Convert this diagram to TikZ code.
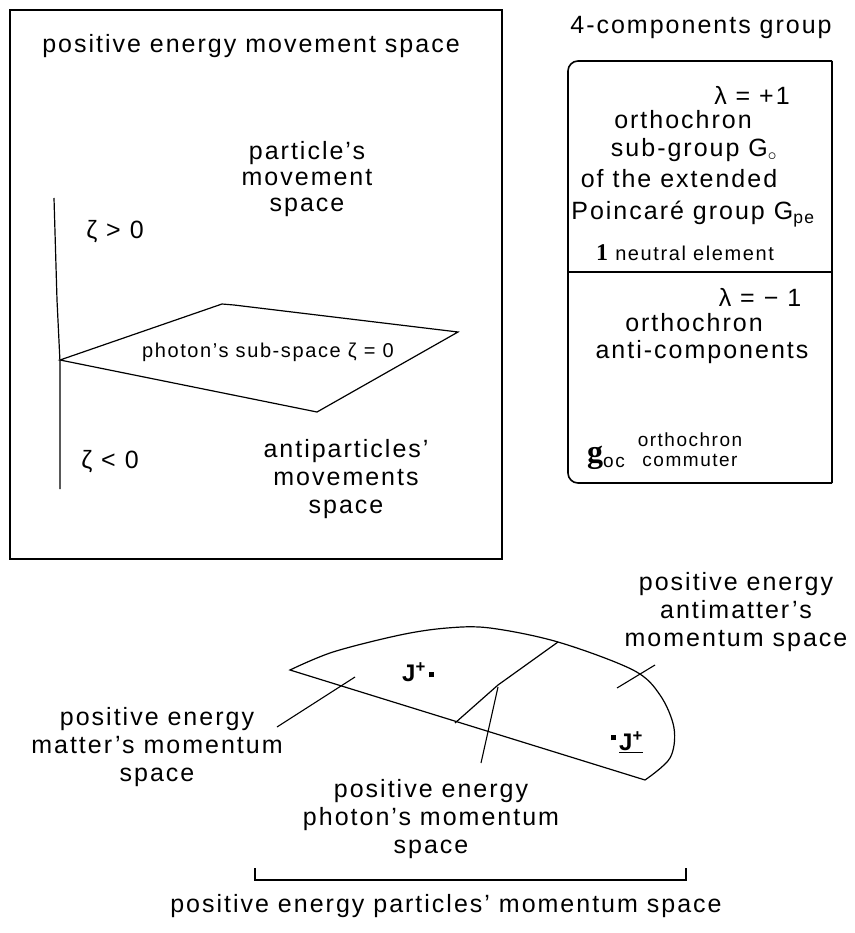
\documentclass[tikz,border=0pt]{standalone}
\usepackage{fontspec}
\setmainfont{Liberation Sans}[LetterSpace=8]
\newfontfamily\serifrm{Liberation Serif}
\usepackage{tikz}
\usetikzlibrary{positioning}
\newcommand\bigtext{\fontsize{25}{28}\selectfont}
\newcommand\smalltext{\fontsize{20}{22}\selectfont}
\tikzset{
  boxline/.style={
    draw=black,
    line width=1.6pt,
  },
  thinline/.style={
    draw=black,
    line width=1.2pt,
  },
  leader/.style={
    draw=black,
    line width=1.1pt,
  },
  lbl/.style={
    font=\bigtext,
    align=center,
    inner sep=0pt,
  },
  smalllbl/.style={
    font=\smalltext,
    align=center,
    inner sep=0pt,
  },
  jlbl/.style={
    font=\fontsize{24}{24}\selectfont\bfseries,
    inner sep=0pt,
  },
}

\begin{document}
\begin{tikzpicture}[x=1pt, y=-1pt]
  \useasboundingbox (0,0) rectangle (854,933);

  % Left frame — movement space
  \draw[boxline] (10,10) rectangle (502,559);
  \node[lbl] (title) at (251,46) {positive energy movement space};
  \node[lbl, font=\fontsize{25}{26}\selectfont] (particles) at (307,179) {particle's\\movement\\space};
  \node[lbl] (zetapos) at (115,232) {ζ > 0};
  \node[lbl] (zetaneg) at (110,462) {ζ < 0};
  \node[lbl] (antiparticles) at (346,479) {antiparticles'\\movements\\space};

  \draw[thinline] (54,198) -- (57,300) -- (60,362) -- (60,489);
  \coordinate (pl) at (60,360);
  \coordinate (pt) at (222,304);
  \coordinate (pt2) at (234,305);
  \coordinate (pr) at (458,332);
  \coordinate (pb) at (317,412);
  \draw[thinline] (pl) -- (pt) -- (pt2) -- (pr) -- (pb) -- cycle;
  \node[smalllbl] (photonsub) at (268,352) {photon's sub-space ζ = 0};

  % Right frame — 4-components group
  \node[lbl] (group) at (701,27) {4-components group};
  \draw[boxline, rounded corners=10pt] (832,61) -- (568,61) -- (568,483) -- (832,483);
  \draw[boxline] (832,61) -- (832,483);
  \draw[boxline] (568,272) -- (832,272);

  \node[lbl] (lamplus) at (752,95) {λ = +1};
  \node[lbl] (ortho) at (683,120) {orthochron};
  \node[lbl] (subgroup) at (694,150) {sub-group G$_\circ$};
  \node[lbl] (extended) at (679,179) {of the extended};
  \node[lbl] (poincare) at (693,214) {Poincaré group G\textsubscript{pe}};
  \node[smalllbl] (neutral) at (685,253) {{\fontsize{24}{24}\serifrm\bfseries 1} neutral element};

  \node[lbl] (lamminus) at (760,297) {λ = − 1};
  \node[lbl] (orthoanti) at (694,323) {orthochron};
  \node[lbl] (anticomp) at (702,352) {anti-components};
  \node[lbl] (goc) at (606,458) {{\fontsize{32}{32}\serifrm\bfseries g}{\fontsize{19}{19}\selectfont\raisebox{-5pt}{oc}}};
  \node[smalllbl, font=\fontsize{19}{20}\selectfont] (commuter) at (690,450) {orthochron\\commuter};

  % Bottom — momentum space
  \draw[thinline] plot[smooth, tension=0.55] coordinates {(290,670) (333,652) (400,635) (447,628) (490,628) (558,642) (633,670) (660,695) (674,728) (670,758) (645,780)} -- cycle;
  \coordinate (ph1) at (558,642);
  \coordinate (ph2) at (498,685);
  \coordinate (ph3) at (455,723);
  \draw[thinline] (ph1) -- (ph2) -- (ph3);

  \node[jlbl] (jmatter) at (418,672) {J\textsuperscript{+}\hspace{3pt}\rule[4pt]{5pt}{5pt}};
  \node[jlbl] (jantimatter) at (627,742) {\rule[10pt]{5pt}{5pt}\hspace{3pt}\underline{J\textsuperscript{+}}};

  \node[lbl] (antimatterlbl) at (736,612) {positive energy\\antimatter's\\momentum space};
  \node[lbl] (matterlbl) at (157,747) {positive energy\\matter's momentum\\space};
  \node[lbl] (photonlbl) at (431,819) {positive energy\\photon's momentum\\space};

  \coordinate (ma) at (277,727);
  \coordinate (mb) at (355,677);
  \draw[leader] (ma) -- (mb);
  \coordinate (pa) at (481,763);
  \coordinate (pb2) at (498,687);
  \draw[leader] (pa) -- (pb2);
  \coordinate (aa) at (617,688);
  \coordinate (ab) at (655,665);
  \draw[leader] (aa) -- (ab);

  % Bracket
  \coordinate (bl) at (255,868);
  \coordinate (br) at (686,868);
  \draw[thinline] (bl) -- ++(0,12) -| (br);
  \node[lbl] (particleslbl) at (446,906) {positive energy particles' momentum space};
\end{tikzpicture}
\end{document}
